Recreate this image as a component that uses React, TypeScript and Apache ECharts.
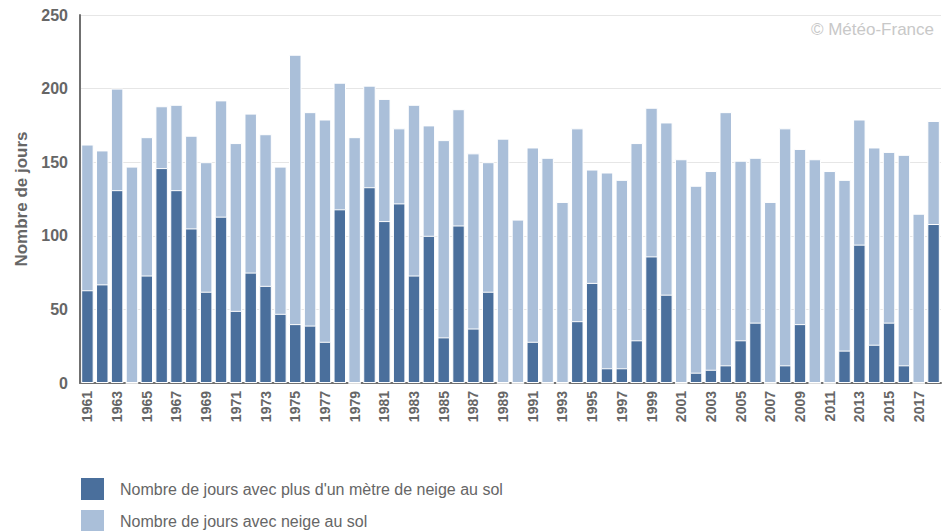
import React, { useEffect, useRef } from "react";
import * as echarts from "echarts";

const years: string[] = [];
for (let y = 1961; y <= 2018; y++) years.push(String(y));

const snowDays: number[] = [
  162, 158, 200, 147, 167, 188, 189, 168, 150, 192,
  163, 183, 169, 147, 223, 184, 179, 204, 167, 202,
  193, 173, 189, 175, 165, 186, 156, 150, 166, 111,
  160, 153, 123, 173, 145, 143, 138, 163, 187, 177,
  152, 134, 144, 184, 151, 153, 123, 173, 159, 152,
  144, 138, 179, 160, 157, 155, 115, 178,
];

const deepSnowDays: number[] = [
  63, 67, 131, 0, 73, 146, 131, 105, 62, 113,
  49, 75, 66, 47, 40, 39, 28, 118, 0, 133,
  110, 122, 73, 100, 31, 107, 37, 62, 0, 0,
  28, 0, 0, 42, 68, 10, 10, 29, 86, 60,
  0, 7, 9, 12, 29, 41, 0, 12, 40, 0,
  0, 22, 94, 26, 41, 12, 0, 108,
];

const yTicks = { min: 0, max: 250, interval: 50 };

const NAME_DEEP = "Nombre de jours avec plus d'un mètre de neige au sol";
const NAME_SNOW = "Nombre de jours avec neige au sol";

const DARK = "#4a6f9c";
const LIGHT = "#aabfd9";
const FONT = "'Liberation Sans', Arial, sans-serif";

export default function App() {
  const ref = useRef<HTMLDivElement>(null);
  useEffect(() => {
    document.body.style.margin = "0";
    if (!ref.current) return;
    const chart = echarts.init(ref.current, undefined, { renderer: "svg" });
    const legendBase = {
      orient: "vertical",
      left: 79,
      padding: 0,
      itemWidth: 25,
      itemHeight: 24,
      icon: "rect",
      textStyle: {
        color: "#666666",
        fontSize: 16,
        fontFamily: FONT,
        padding: [0, 0, 0, 10],
      },
    };
    chart.setOption({
      animation: false,
      backgroundColor: "#ffffff",
      textStyle: { fontFamily: FONT },
      grid: { left: 80, right: 9, top: 15, bottom: 148, containLabel: false },
      legend: [
        { ...legendBase, top: 476, data: [NAME_DEEP] },
        { ...legendBase, top: 508, data: [NAME_SNOW] },
      ],
      graphic: [
        {
          type: "text",
          right: 16,
          top: 21,
          style: {
            text: "© Météo-France",
            fill: "#c8c8c8",
            font: "17px " + FONT,
          },
        },
      ],
      xAxis: {
        type: "category",
        data: years,
        axisLine: { lineStyle: { color: "#707070", width: 2 } },
        axisTick: { show: false },
        axisLabel: {
          rotate: 90,
          interval: 1,
          color: "#666666",
          fontWeight: "bold",
          fontSize: 14,
          fontFamily: FONT,
          margin: 8,
        },
      },
      yAxis: {
        type: "value",
        min: yTicks.min,
        max: yTicks.max,
        interval: yTicks.interval,
        name: "Nombre de jours",
        nameLocation: "middle",
        nameGap: 47,
        nameTextStyle: {
          color: "#666666",
          fontWeight: "bold",
          fontSize: 17,
          fontFamily: FONT,
        },
        axisLine: { show: true, lineStyle: { color: "#707070", width: 2 } },
        axisTick: { show: false },
        splitLine: { lineStyle: { color: "#e6e6e6", width: 1 } },
        axisLabel: {
          color: "#666666",
          fontWeight: "bold",
          fontSize: 16,
          fontFamily: FONT,
          margin: 12,
        },
      },
      series: [
        {
          name: NAME_SNOW,
          type: "bar",
          data: snowDays,
          barWidth: "84%",
          barGap: "-100%",
          itemStyle: { color: LIGHT, borderColor: "#ffffff", borderWidth: 1 },
          z: 2,
        },
        {
          name: NAME_DEEP,
          type: "bar",
          data: deepSnowDays,
          barWidth: "84%",
          barGap: "-100%",
          itemStyle: { color: DARK, borderColor: "#ffffff", borderWidth: 1 },
          z: 3,
        },
      ],
    });
    return () => chart.dispose();
  }, []);
  return <div ref={ref} style={{ width: 950, height: 531 }} />;
}
